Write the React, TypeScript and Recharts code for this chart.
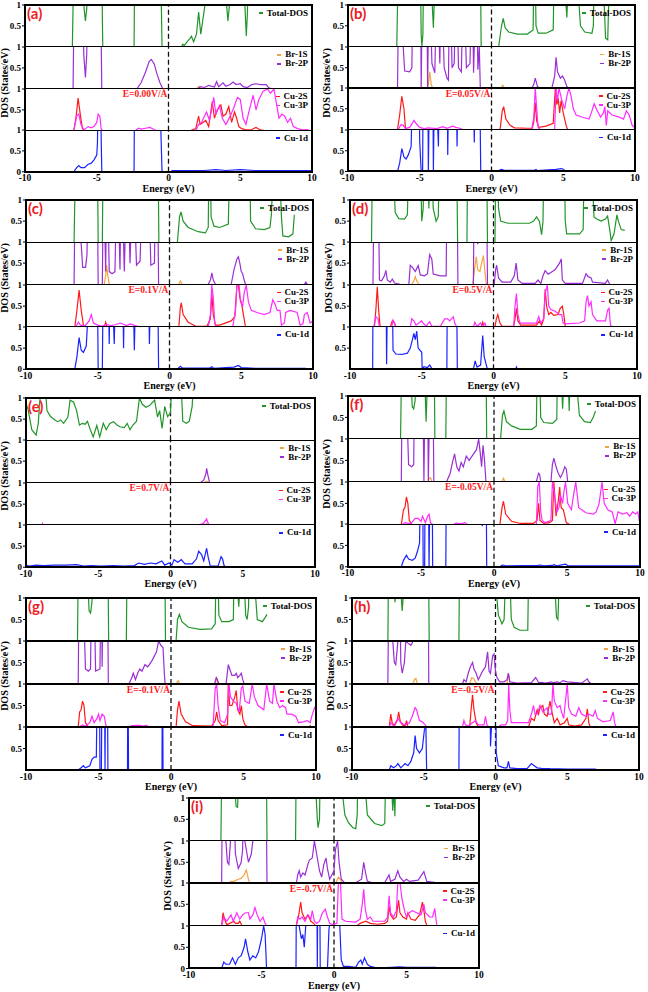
import React from "react";
import { LineChart, Line, XAxis, YAxis, ReferenceLine } from "recharts";

type P = [number, number | null];
const N = null;

/* ── series keys / colours ── */
const KEYS = ["total", "br1s", "br2p", "cu2s", "cu3p", "cu1d"] as const;
type K = (typeof KEYS)[number];
const NAMES: Record<K, string> = {
  total: "Total-DOS",
  br1s: "Br-1S",
  br2p: "Br-2P",
  cu2s: "Cu-2S",
  cu3p: "Cu-3P",
  cu1d: "Cu-1d",
};
const COLORS: Record<K, string> = {
  total: "#22952a",
  br1s: "#f3a443",
  br2p: "#9a2fd6",
  cu2s: "#ff1a1a",
  cu3p: "#ff2bff",
  cu1d: "#1a22ff",
};
const SUBS: K[][] = [["total"], ["br1s", "br2p"], ["cu2s", "cu3p"], ["cu1d"]];
const X_TICKS = [-10, -5, 0, 5, 10];

/* ═══ (a) E=0.00 ═══ */
const aTotal: P[] = [[-6.7,0],[-6.55,3],[-6.0,2],[-5.88,0.9],[-5.79,0.62],[-5.7,0.9],[-5.6,2],[-4.7,3],[-4.58,0],[-3.5,N],[-2.4,0],[-2.33,3],[-0.6,3],[-0.45,0],[0.3,N],[0.9,0],[1.0,0.06],[1.1,0.03],[1.25,0.1],[1.5,0.2],[1.6,0.25],[1.75,0.12],[1.95,0.3],[2.1,0.83],[2.25,0.3],[2.5,0.9],[2.6,1.2],[3.0,3],[3.9,2],[4.05,1],[4.14,0.62],[4.25,1],[4.4,3],[5.2,2],[5.35,0.8],[5.42,0.26],[5.5,0.8],[5.6,3],[10,3]];
const aBr1s: P[] = [[1.95,0],[2.1,0.05],[2.25,0]];
const aBr2p: P[] = [[-6.65,0],[-6.55,3],[-6.0,2],[-5.9,0.8],[-5.79,0.27],[-5.7,0.8],[-5.6,3],[-4.75,3],[-4.65,0],[-3,N],[-2.2,0],[-1.9,0.15],[-1.6,0.4],[-1.35,0.65],[-1.2,0.7],[-1.0,0.6],[-0.8,0.35],[-0.6,0.15],[-0.4,0],[1,N],[2.05,0],[2.2,0.05],[2.5,0.03],[2.8,0.08],[3.2,0.04],[3.35,0.17],[3.5,0.05],[3.8,0.14],[4.0,0.06],[4.3,0.1],[4.5,0.16],[4.7,0.1],[5.0,0.12],[5.2,0.05],[5.5,0.03],[5.8,0.1],[6.1,0.12],[6.4,0.1],[6.8,0.1],[7.0,0.02],[7.2,0]];
const aCu2s: P[] = [[-6.6,0],[-6.45,0.3],[-6.3,0.78],[-6.15,0.4],[-6.0,0.05],[-5.8,0],[-2,N],[1.5,0],[1.9,0.05],[2.1,0.35],[2.2,0.15],[2.4,0.2],[2.6,0.25],[2.8,0.1],[3.05,0.7],[3.2,0.3],[3.4,0.5],[3.65,0.62],[3.8,0.35],[4.0,0.4],[4.2,0.58],[4.4,0.2],[4.6,0.45],[4.75,0.3],[4.9,0.1],[5.1,0.05],[5.4,0.02],[5.8,0.03],[6.1,0.08],[6.4,0.02],[6.8,0]];
const aCu3p: P[] = [[-6.6,0],[-6.4,0.35],[-6.25,0.4],[-6.1,0.15],[-5.9,0.02],[-5.6,0.1],[-5.4,0.07],[-5.2,0.1],[-5.0,0.2],[-4.9,0.4],[-4.78,0.35],[-4.7,0.05],[-4.6,0],[-3.5,N],[-2.3,0],[-2.1,0.06],[-1.9,0.04],[-1.6,0.06],[-1.3,0.08],[-1.0,0.03],[-0.8,0],[0.5,N],[1.9,0],[2.1,0.15],[2.3,0.2],[2.5,0.35],[2.65,0.45],[2.85,0.25],[3.0,0.5],[3.15,0.8],[3.3,0.4],[3.55,0.6],[3.75,0.3],[4.0,0.15],[4.3,0.35],[4.55,0.55],[4.8,0.8],[5.0,0.75],[5.2,0.3],[5.4,0.15],[5.6,0.45],[5.9,0.85],[6.1,0.5],[6.3,0.75],[6.6,0.95],[6.9,1.0],[7.1,0.9],[7.35,1.0],[7.5,0.7],[7.7,0.3],[7.9,0.4],[8.1,0.35],[8.3,0.2],[8.5,0.3],[8.7,0.1],[9.0,0.05],[9.3,0.02],[9.7,0.03],[9.8,0]];
const aCu1d: P[] = [[-6.6,0],[-6.4,0.1],[-6.25,0.15],[-6.1,0.1],[-5.85,0.1],[-5.6,0.18],[-5.4,0.2],[-5.2,0.28],[-5.0,0.4],[-4.95,0.7],[-4.9,2],[-4.75,2],[-4.65,0],[-3.5,N],[-2.4,0],[-2.35,3],[-0.7,3],[-0.45,0],[-0.2,N],[0.2,0.03],[2.5,0.03],[3.3,0.05],[4.0,0.03],[5.0,0.05],[6.0,0.03],[8.0,0.03],[10,0.03]];

/* ═══ (b) E=0.05 ═══ */
const bTotal: P[] = [[-6.6,0],[-6.45,3],[-6.0,1.5],[-5.8,0.98],[-5.6,1.5],[-5.0,3],[-4.9,0.3],[-4.85,0],[-4.78,0.3],[-4.7,3],[-4.2,1.5],[-4.05,0.45],[-3.95,1.5],[-3.8,3],[-0.8,3],[-0.72,0],[0,N],[0.5,0],[0.7,0.5],[0.82,0.68],[0.95,0.45],[1.2,0.35],[1.8,0.3],[2.5,0.3],[2.9,0.4],[3.0,3],[3.1,0.5],[3.25,0.32],[3.8,0.32],[4.3,0.4],[4.42,3],[5.1,1.5],[5.25,0.7],[5.35,1.5],[5.5,3],[6.0,1.5],[6.2,0.5],[6.5,0.35],[7.0,0.32],[7.1,0.5],[7.2,3],[7.8,1.5],[7.95,0.2],[8.1,0.16],[8.2,1.5],[8.3,3],[10,3]];
const bBr1s: P[] = [[-4.5,0],[-4.4,0.1],[-4.3,0.4],[-4.2,0.1],[-4.1,0],[-2,N],[0.65,0],[0.78,0.08],[0.9,0]];
const bBr2p: P[] = [[-6.55,0],[-6.45,3],[-6.15,1],[-6.05,0.42],[-5.7,0.4],[-5.55,0.5],[-5.45,3],[-4.95,3],[-4.9,0],[-4.8,3],[-4.5,2],[-4.45,0],[-4.35,3],[-4.15,0.6],[-3.95,0.38],[-3.8,3],[-3.6,0.6],[-3.5,3],[-3.3,0.5],[-3.1,0.25],[-3.0,0.2],[-2.9,3],[-2.75,0.5],[-2.6,0.6],[-2.45,3],[-2.3,0.5],[-2.1,0.4],[-1.95,3],[-1.75,0.5],[-1.5,0.6],[-1.35,3],[-1.25,0.38],[-1.05,3],[-0.95,0.45],[-0.85,1],[-0.78,0],[0,N],[2.8,0],[2.95,0.1],[3.05,0.25],[3.2,0.05],[3.4,0],[3.8,N],[4.2,0],[4.4,0.3],[4.5,0.75],[4.6,0.4],[4.8,0.25],[4.95,0.3],[5.1,0.2],[5.25,0.05],[5.4,0]];
const bCu2s: P[] = [[-6.55,0],[-6.4,0.35],[-6.25,0.8],[-6.1,0.5],[-6.0,0.05],[-5.9,0],[-2,N],[0.6,0],[0.75,0.45],[0.85,0.55],[1.0,0.25],[1.3,0.1],[1.6,0.04],[2.5,0.03],[2.85,0.03],[2.95,0.2],[3.05,0.65],[3.15,0.2],[3.3,0.05],[3.8,0.08],[4.3,0.15],[4.45,1.0],[4.55,0.6],[4.65,0.75],[4.75,0.4],[4.85,0.7],[5.0,0.4],[5.2,0.1],[5.3,0]];
const bCu3p: P[] = [[-6.5,0],[-6.3,0.12],[-6.15,0.1],[-6.0,0.02],[-5.7,0.05],[-5.4,0.22],[-5.2,0.12],[-5.0,0.05],[-4.7,0.02],[-4.4,0.04],[-3.8,0.02],[-3.4,0.07],[-3.1,0.03],[-2.7,0.08],[-2.5,0.05],[-2.2,0.03],[-2.0,0],[0,N],[2.8,0],[2.95,0.3],[3.05,1.0],[3.15,0.5],[3.25,0.05],[3.4,0],[3.9,N],[4.4,0],[4.5,1.0],[4.6,0.7],[4.7,1.0],[4.9,0.7],[5.1,0.5],[5.25,0.8],[5.4,1],[5.55,0.8],[5.7,0.5],[5.9,0.35],[6.3,0.3],[6.8,0.25],[7.0,0.45],[7.15,0.62],[7.3,0.5],[7.6,0.3],[7.8,0.4],[7.9,0.55],[8.0,0.1],[8.1,0.45],[8.4,0.35],[8.9,0.3],[9.2,0.25],[9.4,0.45],[9.6,0.35],[9.8,0.1],[10,0.05]];
const bCu1d: P[] = [[-6.55,0],[-6.4,0.2],[-6.25,0.55],[-6.1,0.35],[-5.95,0.3],[-5.8,0.4],[-5.6,0.6],[-5.45,3],[-5.1,3],[-5.0,0.7],[-4.9,0],[-4.8,0],[-4.75,3],[-4.45,3],[-4.4,0],[-4.3,3],[-4.1,3],[-4.05,0],[-3.95,3],[-3.7,0.6],[-3.6,3],[-3.1,3],[-3.05,0.4],[-2.95,3],[-2.5,3],[-2.4,0.6],[-2.3,3],[-1.3,3],[-1.2,0.7],[-1.1,3],[-0.85,3],[-0.75,0],[0,N],[0.5,0.02],[0.7,0.05],[0.9,0.03],[3.0,0.03],[3.1,0.05],[3.2,0.02],[4.5,0.05],[4.9,0.07],[5.1,0.03],[6,0.02],[10,0.02]];

/* ═══ (c) E=0.1 ═══ */
const cTotal: P[] = [[-6.65,0],[-6.5,3],[-5.05,3],[-4.97,0],[-4.8,N],[-4.68,0],[-4.6,3],[-0.82,3],[-0.74,0],[0,N],[0.55,0],[0.7,0.6],[0.8,0.72],[0.95,0.5],[1.3,0.35],[2.0,0.25],[2.5,0.22],[2.7,0.35],[2.78,3],[2.9,0.6],[3.1,0.38],[3.5,0.35],[4.1,0.43],[4.25,3],[5.55,3],[5.65,0.5],[6.0,0.32],[6.6,0.3],[7.0,0.35],[7.1,0.65],[7.2,1.5],[7.7,1.5],[7.8,0.6],[7.9,0.15],[8.3,0.13],[8.6,0.2],[8.7,0.65]];
const cBr1s: P[] = [[-4.55,0],[-4.45,0.2],[-4.38,0.45],[-4.3,0.2],[-4.2,0],[-2,N],[0.65,0],[0.76,0.08],[0.87,0]];
const cBr2p: P[] = [[-6.65,0],[-6.55,3],[-6.2,1.2],[-6.05,0.4],[-5.85,0.4],[-5.75,0.7],[-5.65,3],[-5.05,3],[-4.97,0],[-4.8,N],[-4.68,0],[-4.6,3],[-4.45,0.3],[-4.35,3],[-4.2,0.3],[-4.0,0.25],[-3.8,0.3],[-3.65,3],[-3.45,0.35],[-3.35,3],[-3.15,0.3],[-2.95,3],[-2.75,0.5],[-2.55,3],[-2.3,0.45],[-2.05,0.55],[-1.85,3],[-1.5,3],[-1.3,0.45],[-1.05,0.5],[-0.95,3],[-0.85,3],[-0.76,0],[0,N],[2.7,0],[2.85,0.1],[2.95,0.27],[3.05,0.1],[3.2,0],[3.8,N],[4.3,0],[4.5,0.35],[4.7,0.6],[4.8,0.65],[4.9,0.5],[5.0,0.3],[5.1,0.25],[5.2,0.1],[5.3,0],[7,N],[9.4,0],[9.5,0.05],[9.6,0]];
const cCu2s: P[] = [[-6.6,0],[-6.45,0.4],[-6.3,0.88],[-6.15,0.4],[-6.0,0.05],[-5.8,0],[-5,N],[-4.55,0],[-4.45,0.12],[-4.35,0],[-2,N],[0.65,0],[0.75,0.45],[0.82,0.58],[0.95,0.3],[1.3,0.12],[1.8,0.03],[2.6,0.02],[2.85,0.2],[2.95,0.8],[3.05,0.3],[3.2,0.05],[3.5,0.05],[4.3,0.15],[4.55,0.25],[4.7,1.0],[4.8,1.0],[4.9,0.7],[5.0,0.6],[5.15,0.3],[5.3,0]];
const cCu3p: P[] = [[-6.55,0],[-6.35,0.12],[-6.2,0.05],[-5.9,0.03],[-5.6,0.15],[-5.45,0.3],[-5.3,0.1],[-5.0,0.05],[-4.7,0.02],[-4.4,0.07],[-4.1,0.04],[-3.8,0.06],[-3.4,0.1],[-3.0,0.04],[-2.7,0.08],[-2.4,0.04],[-2.0,0],[0,N],[2.7,0],[2.85,0.3],[2.95,1.0],[3.05,0.7],[3.15,0.1],[3.3,0],[3.9,N],[4.4,0],[4.6,0.4],[4.7,1.0],[4.85,1.0],[4.95,0.6],[5.1,0.5],[5.2,0.8],[5.35,1.0],[5.5,0.6],[5.7,0.4],[6.1,0.35],[6.6,0.3],[7.0,0.35],[7.2,0.65],[7.35,0.55],[7.5,0.4],[7.7,0.4],[7.8,0.05],[8.0,0.1],[8.1,0.35],[8.4,0.4],[8.9,0.35],[9.1,0.05],[9.3,0.08],[9.4,0.3],[9.6,0.35],[9.8,0.1],[10,0.15]];
const cCu1d: P[] = [[-6.6,0],[-6.45,0.3],[-6.3,0.75],[-6.15,0.45],[-6.0,0.4],[-5.8,0.55],[-5.65,1.5],[-5.5,3],[-5.05,3],[-4.97,0],[-4.8,N],[-4.68,0],[-4.6,3],[-4.3,3],[-4.2,0.6],[-4.1,3],[-3.85,0.6],[-3.7,3],[-3.3,3],[-3.2,0.5],[-3.1,3],[-2.6,3],[-2.45,0.45],[-2.3,3],[-1.5,3],[-1.4,0.6],[-1.25,3],[-0.85,3],[-0.76,0],[0,N],[0.6,0.02],[0.75,0.07],[0.9,0.03],[2.8,0.03],[2.95,0.06],[3.1,0.02],[4.5,0.05],[4.8,0.09],[5.0,0.04],[6,0.02],[9.5,0.02]];

/* ═══ (d) E=0.5 ═══ */
const dTotal: P[] = [[-8.5,0],[-8.4,3],[-7.0,2],[-6.85,0.7],[-6.6,0.56],[-6.2,0.55],[-6.0,0.65],[-5.85,3],[-5.1,2],[-5.0,0.5],[-4.9,0.8],[-4.75,3],[-4.5,0.8],[-4.42,3],[-4.2,0.8],[-4.0,0.5],[-3.85,0.6],[-3.7,3],[-2.6,3],[-2.5,0],[-2.2,N],[-1.85,0],[-1.78,3],[-0.5,3],[-0.42,0],[-0.1,N],[0.1,0],[0.2,3],[0.35,0.8],[0.5,0.5],[1.0,0.45],[2.5,0.45],[2.8,0.5],[3.0,0.6],[3.2,0.5],[3.35,0.18],[3.45,0.5],[3.55,3],[4.9,3],[5.0,0.5],[5.1,0.2],[6.0,0.2],[6.25,0.3],[6.35,3],[6.9,1.5],[7.0,0.6],[7.2,0.55],[7.5,0.5],[7.8,0.55],[7.95,0.62],[8.1,0.3],[8.2,0.04],[8.4,0.2],[8.6,0.65],[8.7,0.5],[8.9,0.3],[9.15,0.28]];
const dBr1s: P[] = [[-5.7,0],[-5.55,0.08],[-5.45,0.18],[-5.35,0.08],[-5.2,0],[-3,N],[-1.45,0],[-1.3,0.4],[-1.2,0.65],[-1.1,0.35],[-0.95,0.3],[-0.8,0.55],[-0.7,0.68],[-0.6,0.3],[-0.5,0]];
const dBr2p: P[] = [[-8.4,0],[-8.3,3],[-8.05,3],[-7.95,0.1],[-7.8,0.08],[-7.6,0.2],[-7.5,0.33],[-7.4,0.1],[-7.2,0.05],[-7.05,0.12],[-6.9,0.03],[-6.5,0],[-6.2,N],[-5.9,0],[-5.8,0.45],[-5.65,0.4],[-5.45,0.3],[-5.25,0.44],[-5.1,0.22],[-4.8,0.2],[-4.6,0.25],[-4.45,0.7],[-4.3,0.6],[-4.2,0.24],[-3.7,0.2],[-3.3,0.2],[-3.22,3],[-2.55,3],[-2.48,0],[-2,N],[-1.4,0],[-1.33,3],[-1.2,1.2],[-1.1,0.95],[-1.0,1.2],[-0.9,3],[-0.5,3],[-0.42,0],[-0.2,N],[0.05,0],[0.15,0.35],[0.22,0.45],[0.35,0.15],[0.6,0.05],[1.2,0.05],[1.45,0.2],[1.58,0.5],[1.7,0.1],[2.0,0.02],[2.9,0.02],[3.1,0.1],[3.3,0.02],[3.45,0.2],[3.6,0.32],[3.8,0.24],[4.0,0.28],[4.3,0.35],[4.6,0.5],[4.72,0.6],[4.8,0.1],[5.0,0.02],[6.2,0.02],[6.45,0.25],[6.6,0.18],[6.8,0.15],[6.9,0.05],[7.8,0.02],[7.95,0.1],[8.1,0]];
const dCu2s: P[] = [[-8.3,0],[-8.2,0.4],[-8.1,0.96],[-8.0,0.4],[-7.9,0],[-7.5,N],[-7.2,0],[-7.05,0.15],[-6.9,0.1],[-6.8,0],[-3,N],[-0.85,0],[-0.75,0.12],[-0.65,0],[-0.2,N],[0.1,0],[0.2,0.2],[0.3,0.3],[0.45,0.1],[0.6,0.02],[1.4,0.02],[1.5,0.2],[1.6,0.45],[1.7,0.15],[1.9,0.05],[3.0,0.05],[3.2,0.15],[3.35,0.05],[3.5,0.2],[3.6,0.9],[3.7,0.5],[3.85,0.3],[4.0,0.35],[4.2,0.28],[4.5,0.3],[4.65,0.45],[4.8,0.5],[4.9,0.3],[5.0,0.02]];
const dCu3p: P[] = [[-8.35,0],[-8.2,0.25],[-8.05,0.2],[-7.95,0],[-7.5,N],[-7.1,0],[-7.0,0.17],[-6.9,0.1],[-6.8,0],[-6.3,N],[-5.8,0],[-5.7,0.2],[-5.55,0.15],[-5.4,0.05],[-5.2,0.1],[-5.0,0.15],[-4.9,0.1],[-4.7,0.02],[-4.45,0.13],[-4.3,0.02],[-3.7,0.02],[-3.4,0.2],[-3.2,0.2],[-3.05,0.15],[-2.8,0.25],[-2.7,0.1],[-2.55,0],[-2,N],[-1.4,0],[-1.3,0.12],[-1.15,0.02],[-0.9,0.1],[-0.75,0.02],[-0.6,0.1],[-0.5,0],[0.5,N],[1.4,0],[1.5,0.5],[1.6,0.8],[1.7,0.3],[1.85,0.1],[2.5,0.1],[3.0,0.1],[3.15,0.25],[3.3,0.1],[3.5,0.2],[3.6,0.8],[3.75,1.0],[3.85,0.5],[4.0,0.42],[4.3,0.38],[4.6,0.3],[4.75,0.3],[4.85,0.1],[5.0,0.08],[6.0,0.1],[6.35,0.15],[6.45,0.6],[6.55,0.75],[6.65,0.5],[6.8,0.6],[6.9,0.3],[7.2,0.15],[7.8,0.15],[7.95,0.4],[8.05,0.45],[8.15,0.05],[8.3,0]];
const dCu1d: P[] = [[-8.42,0],[-8.38,3],[-7.5,3],[-7.45,0.12],[-7.35,3],[-7.1,3],[-7.0,0.45],[-6.8,0.36],[-6.4,0.35],[-6.0,0.38],[-5.8,0.5],[-5.65,0.7],[-5.55,0.85],[-5.45,0.7],[-5.35,0.9],[-5.25,0.5],[-5.0,0.4],[-4.97,0],[-4.85,0.06],[-4.6,0.04],[-4.45,0.1],[-4.3,0.02],[-4.0,0],[-3.6,N],[-3.25,0],[-3.2,3],[-2.6,3],[-2.52,0],[-2,N],[-1.4,0],[-1.28,0.2],[-1.15,0.05],[-0.9,0.1],[-0.75,0.8],[-0.65,0.3],[-0.5,0.1],[-0.42,0],[0.5,N],[1.55,0],[1.6,0.05],[1.65,0]];

/* ═══ (e) E=0.7 ═══ */
const eTotal: P[] = [[-10,0.88],[-9.85,0.72],[-9.6,0.25],[-9.3,0.12],[-9.15,0.4],[-9.05,0.9],[-8.9,1.5],[-8.7,1.5],[-8.55,0.7],[-8.3,0.56],[-8.0,0.48],[-7.8,0.44],[-7.6,0.48],[-7.4,0.4],[-7.1,0.55],[-6.95,0.95],[-6.7,0.9],[-6.5,0.7],[-6.3,0.36],[-6.1,0.4],[-5.9,0.38],[-5.75,0.45],[-5.55,0.25],[-5.35,0.08],[-5.1,0.35],[-4.9,0.08],[-4.65,0.4],[-4.45,0.25],[-4.2,0.4],[-3.95,0.44],[-3.7,0.36],[-3.5,0.32],[-3.2,0.3],[-3.0,0.4],[-2.8,0.25],[-2.6,0.36],[-2.35,0.45],[-2.15,1.0],[-1.95,0.85],[-1.7,0.78],[-1.45,0.82],[-1.1,0.95],[-0.9,0.55],[-0.75,0.7],[-0.58,0.28],[-0.4,0.8],[-0.2,0.56],[0.0,0.65],[0.1,1.5],[0.6,2],[0.75,1.2],[0.85,0.45],[1.1,0.4],[1.3,0.45],[1.5,0.8],[1.6,1.5],[2.0,3],[10,3]];
const eBr1s: P[] = [[2.35,0],[2.5,0.02],[2.65,0]];
const eBr2p: P[] = [[2.1,0],[2.3,0.05],[2.45,0.2],[2.5,0.33],[2.6,0.15],[2.7,0]];
const eCu2s: P[] = [[2.35,0],[2.5,0.03],[2.65,0]];
const eCu3p: P[] = [[-10,0.04],[-9.9,0],[-9.4,N],[-8.9,0],[-8.85,0.04],[-8.8,0],[-3,N],[1.9,0],[2.3,0.05],[2.5,0.15],[2.6,0.05],[2.7,0]];
const eCu1d: P[] = [[-10,0.05],[-9.8,0.03],[-9.3,0.05],[-8.8,0.04],[-8.0,0.05],[-7.2,0.05],[-6.5,0.06],[-6.0,0.03],[-5.5,0.04],[-4.8,0.03],[-4.0,0.04],[-3.2,0.03],[-2.5,0.04],[-2.2,0.1],[-1.8,0.07],[-1.4,0.1],[-1.0,0.08],[-0.6,0.15],[-0.4,0.05],[-0.1,0.1],[0.1,0.05],[0.25,0.18],[0.5,0.12],[0.75,0.18],[1.0,0.08],[1.5,0.08],[1.8,0.2],[1.95,0.38],[2.15,0.3],[2.3,0.15],[2.5,0.45],[2.6,0.25],[2.75,0.03],[3.3,0.03],[3.5,0.25],[3.6,0.2],[3.7,0.05],[3.8,0]];

/* ═══ (f) E=-0.05 ═══ */
const fTotal: P[] = [[-6.4,0],[-6.28,3],[-5.7,1.5],[-5.6,0.75],[-5.5,0.7],[-5.4,0.9],[-5.3,3],[-4.75,1.5],[-4.65,0.4],[-4.55,1.5],[-4.45,3],[-4.12,3],[-4.05,0],[-3.7,N],[-3.3,0],[-3.22,3],[-0.58,3],[-0.5,0],[0,N],[0.45,0],[0.58,0.55],[0.68,0.65],[0.85,0.4],[1.2,0.3],[1.8,0.22],[2.6,0.22],[2.9,0.3],[3.02,3],[3.2,0.5],[3.4,0.38],[4.0,0.36],[4.3,0.45],[4.4,3],[4.6,1.5],[4.7,0.7],[4.8,1.5],[4.95,3],[5.15,0.65],[5.3,3],[5.6,1.5],[5.85,0.55],[6.2,0.4],[6.6,0.38],[6.8,0.5],[6.95,0.65]];
const fBr1s: P[] = [[-4.5,0],[-4.45,0.07],[-4.35,0.1],[-4.25,0],[-2,N],[0.55,0],[0.65,0.08],[0.75,0]];
const fBr2p: P[] = [[-6.35,0],[-6.27,3],[-5.95,1.5],[-5.85,0.4],[-5.65,0.35],[-5.5,0.4],[-5.42,3],[-4.9,3],[-4.8,0],[-4.7,3],[-4.55,3],[-4.5,0],[-4.35,3],[-4.2,3],[-4.12,0],[-3.7,N],[-3.25,0],[-3.0,0.2],[-2.85,0.45],[-2.7,0.65],[-2.55,0.35],[-2.4,0.25],[-2.25,0.45],[-2.1,0.35],[-1.9,0.6],[-1.7,0.5],[-1.4,0.65],[-1.2,0.75],[-1.05,1.0],[-0.95,0.7],[-0.85,0.35],[-0.75,0.85],[-0.65,0.5],[-0.55,0],[1,N],[2.9,0],[3.05,0.2],[3.12,0.18],[3.2,0],[3.6,N],[3.9,0],[4.0,0.4],[4.1,0.55],[4.25,0.35],[4.4,0.2],[4.55,0.1],[4.7,0.2],[4.85,0.35],[4.95,0.3],[5.05,0]];
const fCu2s: P[] = [[-6.35,0],[-6.2,0.35],[-6.1,0.4],[-6.0,0.65],[-5.9,0.5],[-5.8,0.1],[-5.6,0],[-2,N],[0.4,0],[0.55,0.4],[0.65,0.55],[0.8,0.25],[1.2,0.08],[1.8,0.03],[2.7,0.03],[2.95,0.1],[3.05,0.5],[3.15,0.1],[3.4,0.03],[3.8,0.05],[4.0,0.1],[4.1,1.0],[4.25,0.2],[4.4,0.55],[4.5,0.88],[4.6,0.4],[4.75,0.35],[4.85,0.2],[4.95,0.05],[5.2,0]];
const fCu3p: P[] = [[-6.3,0],[-6.1,0.05],[-5.7,0.02],[-5.4,0.15],[-5.2,0.15],[-5.0,0.08],[-4.9,0.2],[-4.7,0.05],[-4.55,0.2],[-4.45,0.25],[-4.35,0.05],[-4.2,0],[-3.5,N],[-2.8,0],[-2.6,0.04],[-2.3,0.02],[-2.0,0.05],[-1.8,0],[0,N],[2.9,0],[3.0,0.9],[3.1,1.0],[3.2,0.3],[3.3,0.1],[3.5,0.05],[3.9,0.1],[4.0,1.0],[4.15,0.7],[4.3,0.3],[4.45,0.4],[4.55,0.7],[4.7,0.5],[4.8,0.8],[4.9,1],[5.05,0.5],[5.3,0.35],[5.45,0.7],[5.6,1],[5.8,0.4],[6.3,0.28],[6.8,0.25],[7.0,0.3],[7.2,0.5],[7.4,1.0],[7.55,0.5],[7.8,0.35],[8.1,0.3],[8.3,0.02],[8.5,0.3],[8.8,0.25],[9.1,0.28],[9.3,0.2],[9.5,0.3],[9.7,0.25],[9.85,0.3],[10,0]];
const fCu1d: P[] = [[-6.35,0],[-6.2,0.15],[-6.0,0.27],[-5.85,0.18],[-5.6,0.15],[-5.4,0.2],[-5.25,0.35],[-5.1,0.55],[-5.0,3],[-4.9,3],[-4.85,0],[-4.75,0],[-4.7,3],[-4.5,3],[-4.45,0],[-4.35,3],[-4.25,3],[-4.2,0],[-3.7,N],[-3.3,0],[-3.25,3],[-0.85,3],[-0.8,0.95],[-0.7,3],[-0.55,3],[-0.5,0],[0,N],[0.45,0.02],[0.6,0.04],[0.8,0.02],[3.0,0.03],[3.2,0.04],[3.4,0.02],[4.0,0.03],[4.1,0.05],[4.3,0.02],[4.9,0.06],[5.1,0.02],[10,0.02]];

/* ═══ (g) E=-0.1 ═══ */
const gTotal: P[] = [[-6.45,0],[-6.35,3],[-5.75,1.5],[-5.65,0.7],[-5.55,0.65],[-5.45,0.9],[-5.35,3],[-4.38,3],[-4.3,0],[-3.6,N],[-3.08,0],[-3.0,3],[-0.45,3],[-0.38,0],[0,N],[0.35,0],[0.45,0.5],[0.58,0.62],[0.75,0.45],[1.2,0.32],[2.0,0.27],[2.8,0.28],[3.05,0.4],[3.15,3],[3.3,0.6],[3.5,0.45],[4.0,0.45],[4.3,0.5],[4.4,3],[4.6,1.2],[4.67,0.8],[4.75,1.2],[4.85,3],[5.15,0.6],[5.25,0.5],[5.35,0.8],[5.45,3],[5.8,1.2],[5.95,0.5],[6.3,0.45],[6.5,0.55],[6.62,0.62]];
const gBr1s: P[] = [[0.35,0],[0.5,0.08],[0.6,0],[2,N],[3.05,0],[3.15,0.15],[3.25,0]];
const gBr2p: P[] = [[-6.4,0],[-6.32,3],[-6.0,1.5],[-5.9,0.35],[-5.7,0.3],[-5.55,0.35],[-5.45,3],[-5.35,3],[-5.2,0.3],[-4.9,0.35],[-4.8,3],[-4.75,0.4],[-4.65,3],[-4.4,3],[-4.32,0],[-3.6,N],[-2.9,0],[-2.7,0.15],[-2.6,0.25],[-2.45,0.1],[-2.3,0.25],[-2.15,0.35],[-2.0,0.3],[-1.8,0.45],[-1.6,0.4],[-1.3,0.55],[-1.0,0.75],[-0.85,1.0],[-0.7,0.9],[-0.55,0.85],[-0.45,0.2],[-0.4,0],[1,N],[3.0,0],[3.12,0.15],[3.2,0.1],[3.3,0],[3.55,N],[3.8,0],[3.95,0.45],[4.05,0.35],[4.2,0.2],[4.4,0.2],[4.5,0.25],[4.6,0.15],[4.75,0.2],[4.85,0.25],[4.95,0.1],[5.05,0]];
const gCu2s: P[] = [[-6.4,0],[-6.3,0.35],[-6.2,0.4],[-6.1,0.6],[-6.0,0.5],[-5.9,0.1],[-5.7,0],[-2,N],[0.35,0],[0.45,0.4],[0.55,0.6],[0.7,0.3],[1.0,0.12],[1.5,0.03],[2.8,0.02],[3.05,0.15],[3.15,0.35],[3.25,0.15],[3.5,0.03],[3.9,0.05],[3.95,1.0],[4.05,0.5],[4.2,0.5],[4.4,0.7],[4.5,0.85],[4.6,0.4],[4.75,0.3],[4.85,0.5],[4.95,0.2],[5.1,0.05],[5.3,0],[7,N],[9.5,0],[9.6,0.03],[9.7,0]];
const gCu3p: P[] = [[-6.35,0],[-6.1,0.05],[-5.9,0.02],[-5.6,0.1],[-5.45,0.25],[-5.3,0.1],[-5.1,0.2],[-5.0,0.3],[-4.9,0.15],[-4.75,0.3],[-4.6,0.25],[-4.5,0.05],[-4.4,0],[-3.6,N],[-2.9,0],[-2.7,0.03],[-2.2,0.04],[-1.9,0.02],[-1.7,0.04],[-1.5,0],[0,N],[2.9,0],[3.05,0.9],[3.15,1.0],[3.25,0.5],[3.4,0.15],[3.7,0.1],[3.9,0.3],[4.0,1.0],[4.1,0.7],[4.3,0.6],[4.5,0.55],[4.7,0.35],[4.85,0.9],[4.95,0.95],[5.1,0.6],[5.4,0.55],[5.6,1.0],[5.75,0.7],[6.0,0.5],[6.4,0.4],[6.6,1.0],[6.8,0.6],[7.0,0.55],[7.1,1.0],[7.3,0.6],[7.5,0.45],[7.7,0.5],[7.9,0.45],[8.0,0.3],[8.3,0.3],[8.6,0.25],[8.8,0.1],[9.1,0.12],[9.4,0.15],[9.6,0.1],[9.75,0.3],[9.9,0.45],[10,0.4]];
const gCu1d: P[] = [[-6.4,0],[-6.2,0.05],[-6.05,0.1],[-5.9,0.05],[-5.6,0.1],[-5.45,0.25],[-5.3,0.3],[-5.15,0.3],[-5.05,3],[-4.95,3],[-4.9,0],[-4.8,0],[-4.75,3],[-4.6,3],[-4.55,0],[-4.5,3],[-4.4,3],[-4.35,0],[-3.6,N],[-3.0,0],[-2.97,3],[-2.93,0],[-1.5,N],[-0.62,0],[-0.59,3],[-0.55,0]];

/* ═══ (h) E=-0.5 ═══ */
const hTotal: P[] = [[-7.5,0],[-7.42,3],[-7.1,1.5],[-7.0,0.9],[-6.9,1.5],[-6.6,1.2],[-6.5,0.7],[-6.4,1.2],[-6.3,3],[-4.7,3],[-4.62,0],[-3.5,N],[-2.55,0],[-2.48,3],[-0.05,3],[0.05,1.2],[0.2,0.6],[0.45,0.4],[0.6,0.5],[0.7,1.5],[0.78,3],[1.0,1.5],[1.1,0.5],[1.3,0.32],[1.7,0.25],[2.25,0.25],[2.3,1.5],[2.35,3],[4.1,1.5],[4.25,0.55],[4.35,0.5],[4.45,1.5],[4.55,3],[10,3]];
const hBr1s: P[] = [[-5.75,0],[-5.65,0.1],[-5.55,0.13],[-5.45,0],[-3,N],[-1.8,0],[-1.65,0.15],[-1.5,0.12],[-1.4,0.05],[-1.3,0],[0,N],[0.8,0],[0.9,0.25],[1.0,0]];
const hBr2p: P[] = [[-7.5,0],[-7.42,3],[-7.2,1.2],[-7.05,0.5],[-6.95,0.45],[-6.8,1],[-6.7,3],[-6.6,0.5],[-6.5,0.25],[-6.35,0.5],[-6.25,1],[-6.1,0.95],[-5.9,0.9],[-5.8,0.95],[-5.7,1.2],[-4.75,1.2],[-4.7,3],[-4.65,0],[-3.5,N],[-2.3,0],[-2.2,0.1],[-2.05,0.05],[-1.9,0.25],[-1.75,0.4],[-1.6,0.5],[-1.5,0.35],[-1.35,0.25],[-1.2,0.1],[-1.05,0.2],[-0.9,0.3],[-0.7,0.4],[-0.55,0.75],[-0.45,0.3],[-0.35,0.25],[-0.2,0.65],[-0.1,0.7],[0.0,0.3],[0.1,0.15],[0.3,0.05],[0.6,0.05],[0.8,0.1],[0.9,0.25],[1.0,0.05],[1.5,0.02],[2.5,0.03],[2.8,0.15],[2.9,0.1],[3.0,0.03],[3.2,0.04],[3.5,0.02],[3.9,0.05],[4.0,0.03],[4.3,0.05],[4.5,0.03],[4.7,0.08],[5.0,0.05],[6.0,0.02],[6.4,0.12],[6.5,0.05],[6.7,0]];
const hCu2s: P[] = [[-7.4,0],[-7.3,0.3],[-7.2,0.1],[-7.05,0.02],[-6.85,0.15],[-6.75,0.35],[-6.65,0.15],[-6.5,0.05],[-6.3,0.02],[-6.2,0.15],[-6.1,0],[-4,N],[-1.8,0],[-1.7,0.4],[-1.6,0.75],[-1.5,0.4],[-1.35,0.1],[-1.2,0],[0,N],[2.3,0],[2.5,0.2],[2.7,0.15],[2.9,0.4],[3.0,0.3],[3.1,0.45],[3.3,0.5],[3.4,0.3],[3.6,0.25],[3.8,0.6],[3.9,0.4],[4.1,0.1],[4.3,0.2],[4.5,0.05],[4.8,0.1],[5.0,0.2],[5.1,0.05],[5.5,0.02],[6.0,0.05],[6.3,0.2],[6.4,0.42],[6.5,0.1],[6.6,0]];
const hCu3p: P[] = [[-7.4,0],[-7.3,0.1],[-7.1,0.02],[-6.8,0.2],[-6.6,0.1],[-6.3,0.05],[-6.0,0.1],[-5.8,0.25],[-5.6,0.45],[-5.5,0.4],[-5.3,0.15],[-5.1,0.12],[-4.9,0.05],[-4.8,0],[-3.5,N],[-2.3,0],[-2.2,0.15],[-2.1,0.05],[-1.9,0.02],[-1.6,0.1],[-1.4,0.15],[-1.2,0.05],[-0.8,0.05],[-0.7,0.25],[-0.6,0.05],[-0.45,0],[-0.1,N],[0.2,0],[0.4,0.05],[0.7,0.05],[0.85,0.15],[0.92,1.0],[1.0,0.4],[1.1,0.1],[2.3,0.1],[2.5,0.3],[2.65,0.5],[2.75,0.3],[2.9,0.3],[3.1,0.5],[3.3,0.35],[3.6,0.45],[3.7,0.3],[3.9,0.3],[4.0,1.0],[4.1,0.6],[4.3,0.45],[4.5,0.5],[4.6,0.35],[4.75,0.2],[5.0,1.0],[5.1,0.45],[5.3,0.3],[5.6,0.25],[5.8,0.45],[6.0,0.3],[6.3,0.25],[6.5,0.3],[6.8,0.25],[6.95,0.38],[7.1,0.2],[7.5,0.12],[8.0,0.15],[8.2,0.35],[8.3,0.1],[8.4,0]];
const hCu1d: P[] = [[-7.4,0],[-7.3,0.1],[-7.1,0.05],[-6.9,0.1],[-6.8,0.15],[-6.6,0.05],[-6.3,0.15],[-6.1,0.1],[-5.9,0.2],[-5.7,0.4],[-5.6,0.8],[-5.5,0.5],[-5.3,0.4],[-5.1,0.5],[-4.95,0.95],[-4.85,1.0],[-4.8,0],[-3.5,N],[-2.55,0],[-2.5,3],[-0.4,3],[-0.35,0.55],[-0.25,1.2],[-0.1,3],[0.0,3],[0.05,0.4],[0.2,0.1],[0.6,0.05],[0.8,0.05],[0.9,0.2],[1.0,0.05],[1.5,0.03],[2.2,0.03],[2.5,0.15],[2.7,0.1],[2.9,0.05],[3.2,0.04],[3.8,0.03],[5,0.02],[7,0.02]];

/* ═══ (i) E=-0.7 ═══ */
const iTotal: P[] = [[-7.8,0],[-7.7,3],[-6.9,1.5],[-6.75,0.8],[-6.65,0.78],[-6.55,1.5],[-6.4,3],[-4.7,3],[-4.62,0],[-3.5,N],[-2.65,0],[-2.58,3],[-1.3,1.5],[-1.15,0.5],[-1.1,0.3],[-1.0,0.5],[-0.9,3],[0.45,3],[0.55,1.2],[0.75,0.6],[1.0,0.42],[1.3,0.3],[1.5,0.28],[1.6,0.6],[1.7,3],[2.1,1.5],[2.3,0.6],[2.8,0.4],[3.3,0.35],[3.5,0.4],[3.65,3],[3.95,1.5],[4.05,0.7],[4.15,1.2],[4.2,0.57],[4.25,1.5],[4.35,3],[10,3]];
const iBr1s: P[] = [[-7.3,0],[-7.1,0.05],[-6.9,0.05],[-6.6,0.1],[-6.4,0.12],[-6.2,0.2],[-6.05,0.32],[-5.9,0.1],[-5.8,0],[-3,N],[0.1,0],[0.3,0.15],[0.45,0.1],[0.55,0]];
const iBr2p: P[] = [[-7.75,0],[-7.68,3],[-7.5,1.2],[-7.35,0.5],[-7.25,0.45],[-7.1,1.2],[-7.0,3],[-6.8,0.7],[-6.6,0.35],[-6.4,0.5],[-6.3,0.8],[-6.25,3],[-6.15,1.0],[-6.0,0.7],[-5.9,0.5],[-5.7,0.7],[-5.6,1.0],[-5.5,3],[-4.7,3],[-4.62,0],[-3.5,N],[-2.6,0],[-2.5,0.2],[-2.4,0.3],[-2.3,0.15],[-2.15,0.25],[-2.0,0.2],[-1.8,0.45],[-1.7,0.55],[-1.5,0.6],[-1.35,1.0],[-1.2,0.7],[-1.0,0.3],[-0.85,0.15],[-0.7,0.45],[-0.55,0.6],[-0.45,0.35],[-0.3,0.1],[-0.15,0.2],[0.0,0.3],[0.1,0.8],[0.25,1.0],[0.35,0.5],[0.5,0.1],[0.7,0.03],[1.5,0.02],[1.9,0.1],[2.05,0.5],[2.15,0.3],[2.3,0.05],[2.6,0.02],[3.5,0.02],[3.8,0.2],[3.9,0.05],[4.2,0.1],[4.4,0.3],[4.55,0.15],[4.8,0.05],[5.0,0.1],[5.2,0.05],[5.8,0.08],[6.2,0.28],[6.4,0.05],[7.0,0.02],[7.1,0]];
const iCu2s: P[] = [[-7.75,0],[-7.65,0.3],[-7.55,0.15],[-7.4,0.02],[-7.2,0.05],[-6.9,0.1],[-6.8,0.05],[-6.6,0.05],[-6.5,0.1],[-6.35,0],[-4,N],[-2.6,0],[-2.45,0.2],[-2.3,0.55],[-2.2,0.3],[-2.0,0.15],[-1.8,0.25],[-1.6,0.1],[-1.4,0.05],[-1.3,0],[0,N],[1.6,0],[1.8,0.05],[2.2,0.1],[2.5,0.05],[3.0,0.03],[3.5,0.05],[3.7,0.1],[3.8,0.45],[3.9,0.25],[4.1,0.15],[4.3,0.2],[4.45,0.6],[4.55,0.3],[4.75,0.2],[5.0,0.15],[5.1,0.3],[5.3,0.15],[5.6,0.12],[5.9,0.25],[6.1,0.55],[6.2,0.35],[6.3,0.1],[6.4,0]];
const iCu3p: P[] = [[-7.75,0],[-7.6,0.2],[-7.4,0.1],[-7.1,0.25],[-6.95,0.1],[-6.7,0.3],[-6.5,0.15],[-6.3,0.25],[-6.1,0.3],[-5.9,0.3],[-5.8,0.15],[-5.6,0.25],[-5.45,0.42],[-5.3,0.25],[-5.1,0.1],[-4.9,0.2],[-4.75,0.05],[-4.65,0],[-3.5,N],[-2.6,0],[-2.5,0.2],[-2.35,0.15],[-2.2,0.2],[-2.0,0.1],[-1.8,0.25],[-1.6,0.15],[-1.5,0.35],[-1.35,0.1],[-1.2,0.05],[-1.0,0.1],[-0.8,0.3],[-0.6,0.38],[-0.45,0.2],[-0.3,0.05],[-0.1,0.02],[0.2,0.05],[0.3,1.0],[0.45,1.0],[0.55,0.15],[0.8,0.1],[1.5,0.08],[1.8,0.15],[1.95,0.5],[2.05,0.85],[2.15,0.4],[2.3,0.15],[2.5,0.2],[2.7,0.1],[3.5,0.1],[3.7,0.2],[3.8,0.7],[3.9,0.3],[4.1,0.2],[4.3,0.35],[4.4,1.0],[4.55,1.0],[4.7,0.6],[4.9,0.3],[5.0,0.2],[5.2,0.3],[5.4,0.35],[5.7,0.3],[6.0,0.25],[6.2,0.5],[6.3,0.3],[6.6,0.2],[6.8,0.2],[6.95,0.4],[7.05,0.1],[7.1,0]];
const iCu1d: P[] = [[-7.75,0],[-7.6,0.15],[-7.45,0.1],[-7.2,0.1],[-7.0,0.25],[-6.8,0.1],[-6.6,0.25],[-6.4,0.3],[-6.2,0.5],[-6.1,0.7],[-5.95,0.4],[-5.8,0.2],[-5.6,0.3],[-5.4,0.25],[-5.2,0.4],[-5.0,0.7],[-4.85,1.0],[-4.75,0.8],[-4.65,0],[-3.5,N],[-2.62,0],[-2.58,3],[-2.4,1.0],[-2.25,0.7],[-2.15,0.8],[-2.05,0.5],[-1.95,1.0],[-1.85,3],[-1.2,3],[-1.15,0],[-1.1,3],[-1.0,3],[-0.95,0],[-0.7,N],[-0.45,0],[-0.35,0.9],[-0.25,1.2],[-0.15,3],[0.3,3],[0.4,1.0],[0.5,0.2],[0.65,0.05],[1.0,0.05],[1.5,0.03],[1.7,0.15],[1.85,0.2],[1.95,0.1],[2.1,0.25],[2.3,0.1],[2.5,0.05],[2.8,0.03],[3.5,0.02],[4.0,0.03],[4.5,0.04],[5.0,0.03],[6.0,0.03],[7.0,0.03],[7.1,0]];

/* ── panel layout ── */
type PanelCfg = {
  tag: string; field: string; x: number; y: number; w: number; h: number;
  labelX: number; zeroTick: boolean; series: Record<K, P[]>;
};
const PANELS: PanelCfg[] = [
  { tag: "(a)", field: "E=0.00V/Å", x: 25, y: 5, w: 287, h: 41.75, labelX: 5, zeroTick: true,
    series: { total: aTotal, br1s: aBr1s, br2p: aBr2p, cu2s: aCu2s, cu3p: aCu3p, cu1d: aCu1d } },
  { tag: "(b)", field: "E=0.05V/Å", x: 348, y: 5, w: 287, h: 41.5, labelX: 327, zeroTick: true,
    series: { total: bTotal, br1s: bBr1s, br2p: bBr2p, cu2s: bCu2s, cu3p: bCu3p, cu1d: bCu1d } },
  { tag: "(c)", field: "E=0.1V/Å", x: 26, y: 200, w: 287, h: 42.25, labelX: 5, zeroTick: true,
    series: { total: cTotal, br1s: cBr1s, br2p: cBr2p, cu2s: cCu2s, cu3p: cCu3p, cu1d: cCu1d } },
  { tag: "(d)", field: "E=0.5V/Å", x: 350, y: 200, w: 287, h: 42.25, labelX: 329, zeroTick: false,
    series: { total: dTotal, br1s: dBr1s, br2p: dBr2p, cu2s: dCu2s, cu3p: dCu3p, cu1d: dCu1d } },
  { tag: "(e)", field: "E=0.7V/Å", x: 26, y: 398, w: 289, h: 42.25, labelX: 5, zeroTick: true,
    series: { total: eTotal, br1s: eBr1s, br2p: eBr2p, cu2s: eCu2s, cu3p: eCu3p, cu1d: eCu1d } },
  { tag: "(f)", field: "E=-0.05V/Å", x: 348, y: 396, w: 292, h: 42.75, labelX: 327, zeroTick: true,
    series: { total: fTotal, br1s: fBr1s, br2p: fBr2p, cu2s: fCu2s, cu3p: fCu3p, cu1d: fCu1d } },
  { tag: "(g)", field: "E=-0.1V/Å", x: 26, y: 598, w: 290, h: 43, labelX: 5, zeroTick: false,
    series: { total: gTotal, br1s: gBr1s, br2p: gBr2p, cu2s: gCu2s, cu3p: gCu3p, cu1d: gCu1d } },
  { tag: "(h)", field: "E=-0.5V/Å", x: 352, y: 598, w: 287, h: 43, labelX: 331, zeroTick: true,
    series: { total: hTotal, br1s: hBr1s, br2p: hBr2p, cu2s: hCu2s, cu3p: hCu3p, cu1d: hCu1d } },
  { tag: "(i)", field: "E=-0.7V/Å", x: 189, y: 798, w: 290, h: 42.5, labelX: 168, zeroTick: true,
    series: { total: iTotal, br1s: iBr1s, br2p: iBr2p, cu2s: iCu2s, cu3p: iCu3p, cu1d: iCu1d } },
];

const SERIF = '"Liberation Serif", "DejaVu Serif", serif';
const YW = 26; // y-axis width
const PAD = 6; // vertical padding so edge ticks are not clipped
const RP = 8; // right margin for the "10" tick
const XH = 26; // x-axis height (ticks + title)

const toData = (pts: P[]) => pts.map(([e, v]) => ({ e, v }));

function Panel({ cfg }: { cfg: PanelCfg }) {
  const { x, y, w, h } = cfg;
  const zeroX = x + w / 2;
  const lw = 1.4;
  return (
    <>
      {SUBS.map((keys, i) => {
        const bottom = i === 3;
        const ticks = bottom && cfg.zeroTick ? [0, 0.5, 1] : [0.5, 1];
        return (
          <div key={i} style={{ position: "absolute", left: x - YW, top: y + i * h - PAD }}>
            <LineChart
              width={YW + w + RP}
              height={PAD + h + (bottom ? XH : PAD)}
              margin={{ top: PAD, right: RP, bottom: bottom ? 0 : PAD, left: 0 }}
            >
              <XAxis
                type="number"
                dataKey="e"
                domain={[-10, 10]}
                ticks={X_TICKS}
                allowDataOverflow
                hide={!bottom}
                height={XH}
                axisLine={false}
                tickLine={false}
                tickSize={3}
                tickMargin={0}
                tick={{ fill: "#000", fontSize: 9.5, fontWeight: 700, fontFamily: SERIF }}
                label={{
                  value: "Energy (eV)",
                  position: "insideBottom",
                  offset: 6,
                  style: { fill: "#000", fontSize: 10, fontWeight: 700, fontFamily: SERIF },
                }}
              />
              <YAxis
                type="number"
                domain={[0, 1]}
                ticks={ticks}
                allowDataOverflow
                width={YW}
                axisLine={false}
                tickLine={{ stroke: "#000", strokeWidth: 1 }}
                tickSize={3}
                tickMargin={1}
                tick={{ fill: "#000", fontSize: 9, fontWeight: 700, fontFamily: SERIF }}
              />
              <ReferenceLine x={0} stroke="#111" strokeWidth={1.3} strokeDasharray="5 3" />
              {keys.map((k) => (
                <Line
                  key={k}
                  data={toData(cfg.series[k])}
                  dataKey="v"
                  name={NAMES[k]}
                  type="linear"
                  stroke={COLORS[k]}
                  strokeWidth={1.2}
                  dot={false}
                  activeDot={false}
                  connectNulls={false}
                  isAnimationActive={false}
                />
              ))}
            </LineChart>
          </div>
        );
      })}

      {/* frame */}
      {[0, 1, 2, 3, 4].map((i) => (
        <div key={"h" + i} style={{ position: "absolute", left: x - 0.7, top: y + i * h - 0.7, width: w + 1.4, height: lw, background: "#000" }} />
      ))}
      <div style={{ position: "absolute", left: x - 0.7, top: y, width: lw, height: 4 * h, background: "#000" }} />
      <div style={{ position: "absolute", left: x + w - 0.7, top: y, width: lw, height: 4 * h, background: "#000" }} />

      {/* legends */}
      {SUBS.map((keys, i) => (
        <div
          key={"l" + i}
          style={{
            position: "absolute",
            right: 648 - (x + w - 4),
            top: y + i * h + 3.5,
            fontFamily: SERIF,
            fontWeight: 700,
            fontSize: 9,
            lineHeight: "9px",
            color: "#000",
          }}
        >
          {keys.map((k) => (
            <div key={k} style={{ display: "flex", alignItems: "center", height: 9, whiteSpace: "nowrap" }}>
              <span style={{ display: "inline-block", width: 4, height: 1.8, background: COLORS[k], marginRight: 4 }} />
              <span>{NAMES[k]}</span>
            </div>
          ))}
        </div>
      ))}

      {/* panel tag */}
      <div
        style={{
          position: "absolute",
          left: x + 2,
          top: y + 1,
          fontFamily: "Lato, 'Open Sans', sans-serif",
          fontWeight: 700,
          fontSize: 15,
          lineHeight: "15px",
          color: "#ee1c25",
        }}
      >
        {cfg.tag}
      </div>

      {/* field label */}
      <div
        style={{
          position: "absolute",
          right: 648 - (zeroX - 1),
          top: y + 2 * h + 0.5,
          fontFamily: SERIF,
          fontWeight: 700,
          fontSize: 9.5,
          lineHeight: "10px",
          color: "#ff1a1a",
          whiteSpace: "nowrap",
        }}
      >
        {cfg.field}
      </div>

      {/* y label */}
      <div
        style={{
          position: "absolute",
          left: cfg.labelX,
          top: y + 78,
          transform: "translate(-50%, -50%) rotate(-90deg)",
          fontFamily: SERIF,
          fontWeight: 700,
          fontSize: 10,
          lineHeight: "10px",
          whiteSpace: "nowrap",
          color: "#000",
        }}
      >
        DOS (States/eV)
      </div>
    </>
  );
}

export default function App() {
  return (
    <div style={{ position: "absolute", left: 0, top: 0, width: 648, height: 992, background: "#fff", overflow: "hidden" }}>
      {PANELS.map((p) => (
        <Panel key={p.tag} cfg={p} />
      ))}
    </div>
  );
}
